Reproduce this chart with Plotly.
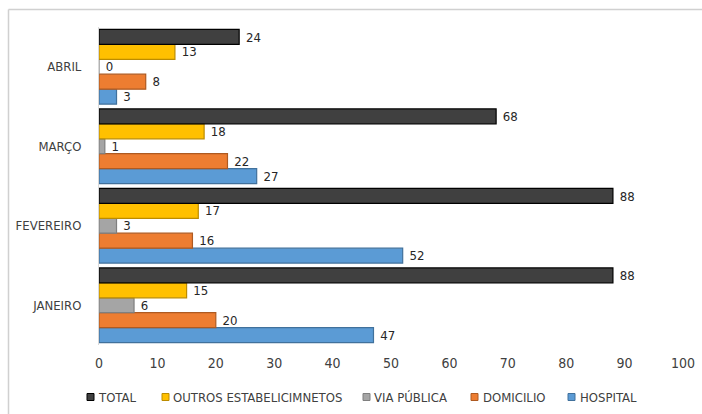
import plotly.graph_objects as go

# Months (bottom to top) and series values
months = ["JANEIRO", "FEVEREIRO", "MARÇO", "ABRIL"]
hospital = [47, 52, 27, 3]
domicilio = [20, 16, 22, 8]
via_publica = [6, 3, 1, 0]
outros = [15, 17, 18, 13]
total = [88, 88, 68, 24]

x_ticks = [0, 10, 20, 30, 40, 50, 60, 70, 80, 90, 100]

# name, values, fill, outline (first trace sits lowest in each group)
series = [
    ("HOSPITAL", hospital, "#5B9BD5", "#41719C"),
    ("DOMICILIO", domicilio, "#ED7D31", "#AE5A21"),
    ("VIA PÚBLICA", via_publica, "#A5A5A5", "#7F7F7F"),
    ("OUTROS ESTABELICIMNETOS", outros, "#FFC000", "#BC8C00"),
    ("TOTAL", total, "#404040", "#000000"),
]

FONT = "DejaVu Sans Condensed, Lato, sans-serif"
FS = 13      # category and legend labels
FS_NUM = 14  # numbers: value labels and x ticks

fig = go.Figure()
for name, vals, fill, edge in series:
    fig.add_trace(go.Bar(
        name=name,
        y=months,
        x=vals,
        orientation="h",
        marker=dict(color=fill, line=dict(color=edge, width=1.2)),
        text=[f" {v}" for v in vals],
        textposition="outside",
        textfont=dict(family=FONT, size=FS_NUM, color="#262626"),
        cliponaxis=False,
        showlegend=False,
    ))

L, R, T, B = 99, 19, 27, 69
W, H = 702, 414
pw, ph = W - L - R, H - T - B

def px_x(p):
    return (p - L) / pw

def px_y(p):
    return (H - B - p) / ph

# Legend row: swatch left edge and label left edge, in pixels
legend_y = 397
legend_pos = {
    "TOTAL": (87, 96),
    "OUTROS ESTABELICIMNETOS": (162, 171),
    "VIA PÚBLICA": (363, 372),
    "DOMICILIO": (471, 481),
    "HOSPITAL": (568, 578),
}
sw = 7

shapes = [
    dict(type="line", xref="paper", yref="paper",
         x0=px_x(8.5), x1=px_x(720), y0=px_y(9.5), y1=px_y(9.5),
         line=dict(color="#D0D0D0", width=1.5)),
    dict(type="line", xref="paper", yref="paper",
         x0=px_x(8.5), x1=px_x(8.5), y0=px_y(9.5), y1=px_y(430),
         line=dict(color="#D0D0D0", width=1.5)),
]
annotations = []
for name, vals, fill, edge in reversed(series):
    sx, tx = legend_pos[name]
    shapes.append(dict(
        type="rect", xref="paper", yref="paper",
        x0=px_x(sx), x1=px_x(sx + sw),
        y0=px_y(legend_y + sw / 2), y1=px_y(legend_y - sw / 2),
        fillcolor=fill, line=dict(color=edge, width=1),
    ))
    annotations.append(dict(
        xref="paper", yref="paper", x=px_x(tx), y=px_y(legend_y),
        xanchor="left", yanchor="middle", showarrow=False,
        text=name, font=dict(family=FONT, size=FS, color="#404040"),
    ))

fig.update_layout(
    width=W, height=H,
    margin=dict(l=L, r=R, t=T, b=B, autoexpand=False),
    paper_bgcolor="white",
    plot_bgcolor="white",
    barmode="group",
    bargap=0.06,
    bargroupgap=0.0,
    font=dict(family=FONT, size=FS, color="#404040"),
    xaxis=dict(
        range=[0, 100],
        tickvals=x_ticks,
        ticktext=[str(t) for t in x_ticks],
        showgrid=False,
        zeroline=False,
        showline=False,
        ticks="",
        ticklabelstandoff=8,
        tickfont=dict(family=FONT, size=FS_NUM, color="#404040"),
    ),
    yaxis=dict(
        showgrid=False,
        zeroline=False,
        showline=True,
        linecolor="#D9D9D9",
        linewidth=1,
        ticks="",
        ticklabelstandoff=14,
        tickfont=dict(family=FONT, size=FS, color="#404040"),
    ),
    showlegend=False,
    shapes=shapes,
    annotations=annotations,
)

fig.write_html("out.html")
